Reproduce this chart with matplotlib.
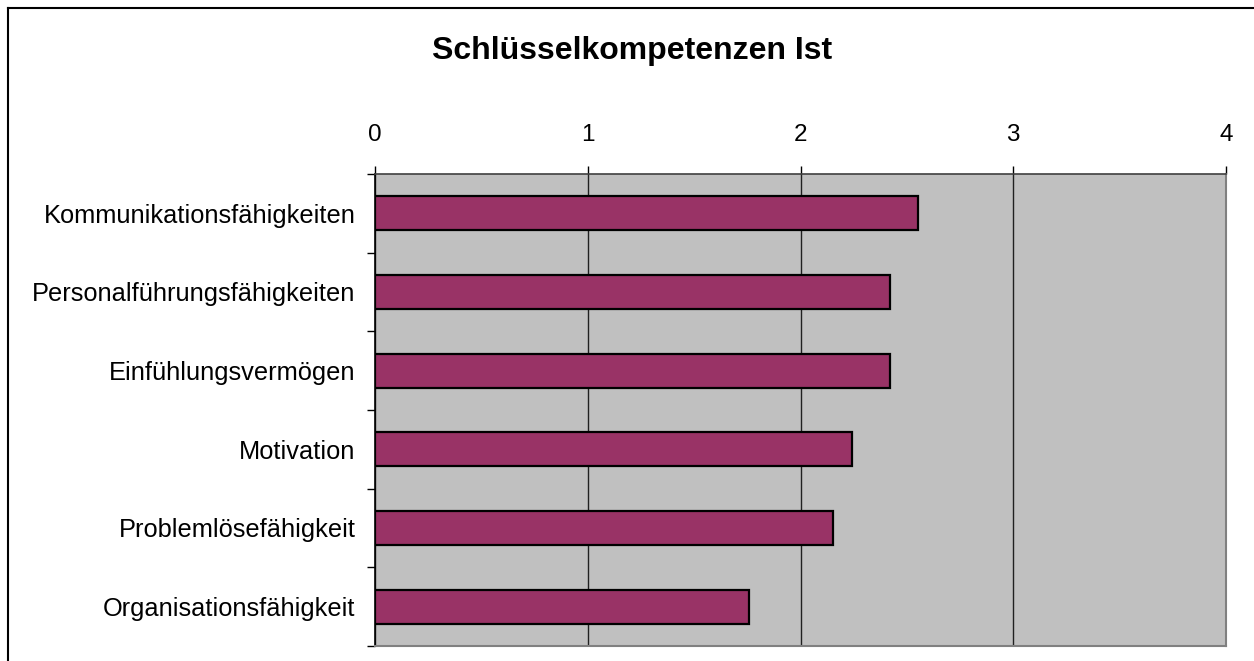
import matplotlib
matplotlib.use("Agg")
import matplotlib.pyplot as plt
from matplotlib.lines import Line2D
import numpy as np

plt.rcParams['font.family'] = ['Liberation Sans', 'DejaVu Sans']

title = "Schlüsselkompetenzen Ist"
categories = ["Kommunikationsfähigkeiten", "Personalführungsfähigkeiten",
              "Einfühlungsvermögen", "Motivation", "Problemlösefähigkeit",
              "Organisationsfähigkeit"]
values = [2.55, 2.42, 2.42, 2.24, 2.155, 1.76]
xticks = [0, 1, 2, 3, 4]

W, H = 1254, 661
fig = plt.figure(figsize=(W / 100, H / 100), dpi=100)
fig.patch.set_facecolor("white")

ax = fig.add_axes([375 / W, 1 - 646 / H, (1226 - 375) / W, (646 - 174) / H])
ax.set_facecolor("#C0C0C0")

y = np.arange(len(categories))
ax.barh(y, values, height=0.43, color="#993366", edgecolor="black",
        linewidth=1.6, zorder=3)

ax.set_xlim(0, 4)
ax.set_ylim(len(categories) - 0.5, -0.5)
ax.set_xticks(xticks)
ax.set_xticklabels([str(t) for t in xticks])
ax.xaxis.tick_top()
ax.grid(axis="x", color="#202020", linewidth=1.0, zorder=1)
ax.set_axisbelow(True)

ax.set_yticks(y)
ax.set_yticklabels(categories)
ax.set_yticks(np.arange(len(categories) + 1) - 0.5, minor=True)
ax.tick_params(axis="y", which="major", length=0, pad=14, labelsize=18.3)
ax.tick_params(axis="y", which="minor", length=6, width=1, color="black")
ax.tick_params(axis="x", which="major", length=6, width=1, pad=14,
               labelsize=17.5, color="black")

ax.spines["left"].set_color("black")
ax.spines["left"].set_linewidth(1.2)
ax.spines["top"].set_color("#404040")
ax.spines["top"].set_linewidth(1.2)
ax.spines["right"].set_color("#808080")
ax.spines["right"].set_linewidth(1.5)
ax.spines["bottom"].set_color("#808080")
ax.spines["bottom"].set_linewidth(1.5)

fig.text(632 / W, 1 - 51 / H, title, ha="center", va="center",
         fontsize=23, fontweight="bold")

# outer chart frame (top and left)
fig.add_artist(Line2D([8 / W, 1.0], [1 - 8 / H, 1 - 8 / H],
                      transform=fig.transFigure, color="black", linewidth=1.5))
fig.add_artist(Line2D([8 / W, 8 / W], [1 - 8 / H, 0.0],
                      transform=fig.transFigure, color="black", linewidth=1.5))

fig.savefig("out.png", dpi=100)
